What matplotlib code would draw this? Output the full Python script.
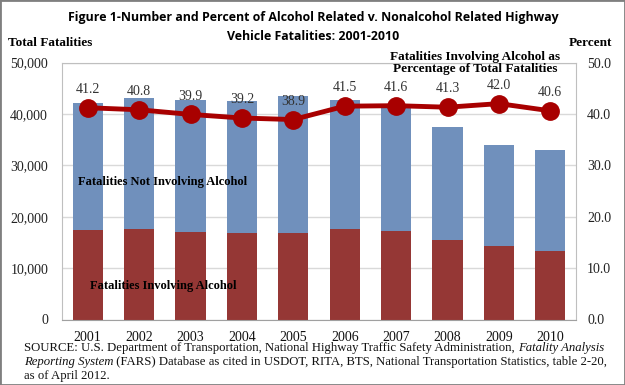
import numpy as np
import matplotlib
matplotlib.use("Agg")
import matplotlib.pyplot as plt

years = ["2001", "2002", "2003", "2004", "2005", "2006", "2007", "2008", "2009", "2010"]
total = [42196, 43005, 42643, 42518, 43510, 42708, 41259, 37423, 33883, 32999]
alcohol = [17448, 17524, 17013, 16919, 16885, 17602, 17164, 15456, 14231, 13398]
pct = [41.2, 40.8, 39.9, 39.2, 38.9, 41.5, 41.6, 41.3, 42.0, 40.6]
pct_labels = ["41.2", "40.8", "39.9", "39.2", "38.9", "41.5", "41.6", "41.3", "42.0", "40.6"]
left_ticks = [0, 10000, 20000, 30000, 40000, 50000]
right_ticks = [0, 10, 20, 30, 40, 50]

non_alcohol = [t - a for t, a in zip(total, alcohol)]

BLUE = "#7090BC"
RED = "#953735"
LINE = "#A80000"
SERIF = "Liberation Serif"
SANS = "Open Sans"

fig = plt.figure(figsize=(6.25, 3.85), dpi=100)
ax = fig.add_axes([62 / 625, 1 - 319.5 / 385, 514 / 625, 257 / 385])
x = np.arange(len(years))

ax.bar(x, alcohol, width=0.59, color=RED, zorder=2)
ax.bar(x, non_alcohol, width=0.59, bottom=alcohol, color=BLUE, zorder=2)
ax.set_xlim(-0.5, len(years) - 0.5)
ax.set_ylim(0, 50000)
ax.set_yticks(left_ticks)
ax.set_yticklabels([f"{v:,}" for v in left_ticks], fontfamily=SERIF, fontsize=10, color="#222222")
ax.set_xticks(x)
ax.set_xticklabels(years, fontfamily=SERIF, fontsize=10, color="#111111")
ax.tick_params(length=0)
ax.tick_params(axis="x", pad=8)
ax.tick_params(axis="y", pad=10)
ax.grid(axis="y", color="#D9D9D9", linewidth=1, zorder=0)
for s in ax.spines.values():
    s.set_color("#BFBFBF")
ax.spines["bottom"].set_color("#A0A0A0")

ax2 = ax.twinx()
ax2.set_ylim(0, 50)
ax2.set_yticks(right_ticks)
ax2.set_yticklabels([f"{v:.1f}" for v in right_ticks], fontfamily=SERIF, fontsize=10, color="#222222")
ax2.tick_params(length=0, pad=8)
for s in ax2.spines.values():
    s.set_visible(False)
ax2.plot(x, pct, color=LINE, linewidth=3.5, marker="o", markersize=12.5, zorder=3)
for xi, p, lab in zip(x, pct, pct_labels):
    ax2.text(xi, p + 2.3, lab, ha="center", va="bottom", fontfamily=SERIF, fontsize=10, color="#333333")

ax.text(0.195, 0.535, "Fatalities Not Involving Alcohol", transform=ax.transAxes,
        fontfamily=SERIF, fontweight="bold", fontsize=9, ha="center", va="center", zorder=4)
ax.text(0.197, 0.13, "Fatalities Involving Alcohol", transform=ax.transAxes,
        fontfamily=SERIF, fontweight="bold", fontsize=9, ha="center", va="center", zorder=4)
fig.text(475 / 625, 1 - 63 / 385, "Fatalities Involving Alcohol as\nPercentage of Total Fatalities",
         fontfamily=SERIF, fontweight="bold", fontsize=9.5, ha="center", va="center", linespacing=1.05)

fig.text(313 / 625, 1 - 18 / 385, "Figure 1-Number and Percent of Alcohol Related v. Nonalcohol Related Highway",
         fontfamily=SANS, fontweight="bold", fontsize=8.9, ha="center", va="center")
fig.text(313 / 625, 1 - 37 / 385, "Vehicle Fatalities: 2001-2010",
         fontfamily=SANS, fontweight="bold", fontsize=8.9, ha="center", va="center")
fig.text(8 / 625, 1 - 43 / 385, "Total Fatalities", fontfamily=SERIF, fontweight="bold",
         fontsize=9.5, ha="left", va="center")
fig.text(612 / 625, 1 - 43 / 385, "Percent", fontfamily=SERIF, fontweight="bold",
         fontsize=9.5, ha="right", va="center")

# source note with italic pieces
src_lines = [
    [("SOURCE: U.S. Department of Transportation, National Highway Traffic Safety Administration, ", "normal"),
     ("Fatality Analysis", "italic")],
    [("Reporting System", "italic"),
     (" (FARS) Database as cited in USDOT, RITA, BTS, National Transportation Statistics, table 2-20,", "normal")],
    [("as of April 2012.", "normal")],
]
fig.canvas.draw()
renderer = fig.canvas.get_renderer()
for i, pieces in enumerate(src_lines):
    xpos = 24 / 625
    ypos = 1 - (348.5 + i * 14) / 385
    for txt, style in pieces:
        t = fig.text(xpos, ypos, txt, fontfamily=SERIF, fontstyle=style, fontsize=9.2,
                     ha="left", va="center", color="#111111")
        bb = t.get_window_extent(renderer)
        xpos += bb.width / fig.bbox.width

fig.patches.append(plt.Rectangle((0, 0), 1, 1, transform=fig.transFigure, fill=False,
                                 edgecolor="#7F7F7F", linewidth=2))
fig.savefig("out.png", dpi=100)
